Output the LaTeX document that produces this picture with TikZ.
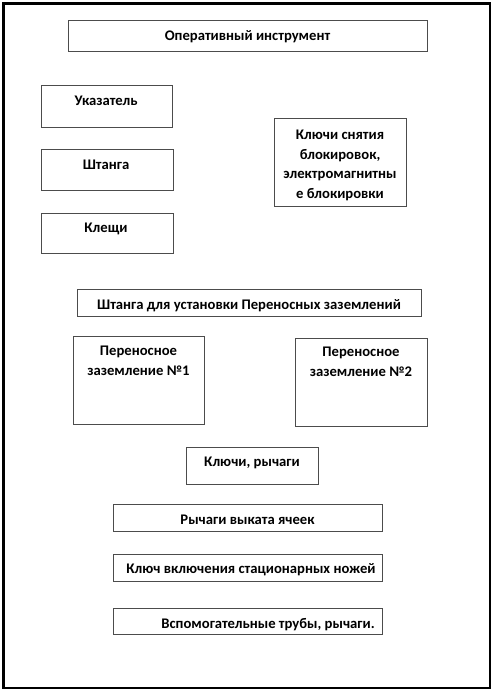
\documentclass[tikz,border=0pt]{standalone}
\usepackage{fontspec}
\setmainfont{Carlito}
\usepackage{tikz}

\tikzset{
  box/.style = {draw = black!70, line width = 0.75pt},
  lbl/.style = {anchor = base, align = center, inner sep = 0pt,
    font = \bfseries\fontsize{11}{14.7}\selectfont},
}

\begin{document}
\begin{tikzpicture}[x = 0.75pt, y = -0.75pt]

    \useasboundingbox (0,0) rectangle (494,692);
    \draw[line width = 1.9pt] (3.5,3.5) rectangle (490,688);

    % Top
    \draw[box] (68,21) rectangle (427,52);
    \node[lbl] (oper) at (247.5,41) {Оперативный инструмент};

    % Left column
    \draw[box] (41,86) rectangle (172,127);
    \node[lbl] (ukaz) at (106,105.5) {Указатель};

    \draw[box] (41,149) rectangle (173,190);
    \node[lbl] (shtanga) at (106,169.5) {Штанга};

    \draw[box] (41,213) rectangle (173,253);
    \node[lbl] (kleshchi) at (106,232) {Клещи};

    % Right (base = last line)
    \draw[box] (274,118) rectangle (406,206);
    \node[lbl] (klyuchi) at (340,198.5) {Ключи снятия\\ блокировок,\\ электромагнитны\\ е блокировки};

    % Middle
    \draw[box] (77,289) rectangle (421,316);
    \node[lbl] (shtangaPZ) at (249,309.5) {Штанга для установки Переносных заземлений};

    \draw[box] (73,336) rectangle (204,424);
    \node[lbl] (pz1) at (138.5,375) {Переносное\\ заземление №1};

    \draw[box] (295,338) rectangle (427,426);
    \node[lbl] (pz2) at (361,376.5) {Переносное\\ заземление №2};

    % Bottom
    \draw[box] (186,447) rectangle (318,484);
    \node[lbl] (rychagi) at (252,466) {Ключи, рычаги};

    \draw[box] (113,504) rectangle (382,531);
    \node[lbl] (vykat) at (247.5,524.5) {Рычаги выката ячеек};

    \draw[box] (113,554) rectangle (382,581);
    \node[lbl] (nozhi) at (251,573.5) {Ключ включения стационарных ножей};

    \draw[box] (113,608) rectangle (382,634);
    \node[lbl] (truby) at (268,628) {Вспомогательные трубы, рычаги.};

\end{tikzpicture}
\end{document}
